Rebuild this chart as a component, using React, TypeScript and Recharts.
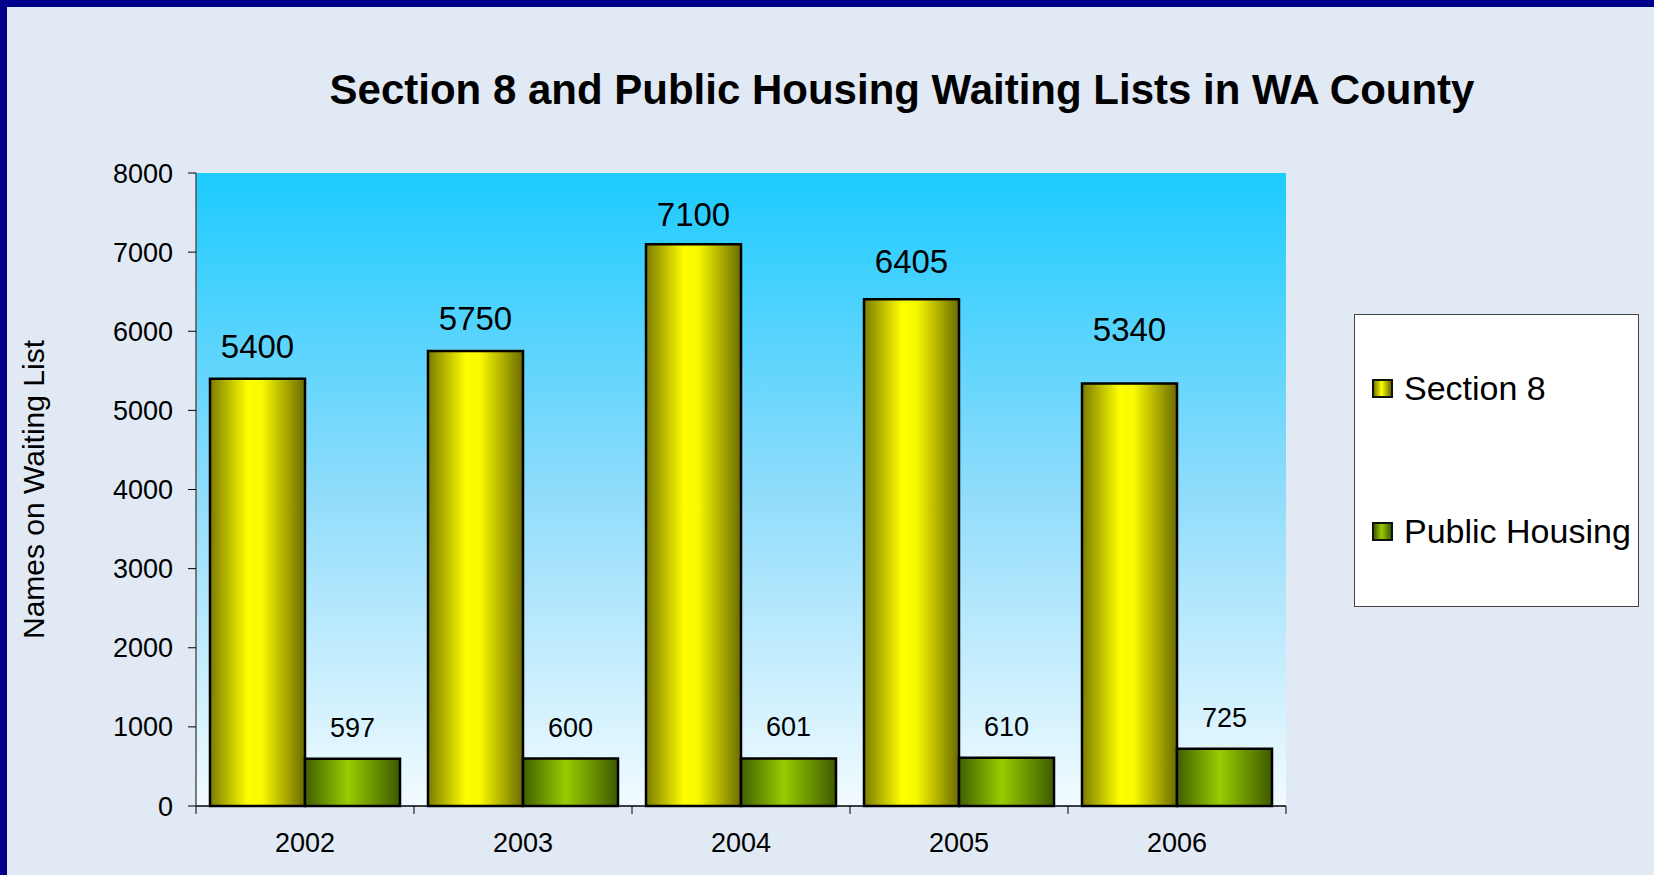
import React from 'react';
import {
  Bar,
  BarChart,
  CartesianGrid,
  LabelList,
  Legend,
  XAxis,
  YAxis,
} from 'recharts';

const YEARS = ['2002', '2003', '2004', '2005', '2006'];
const SECTION8 = [5400, 5750, 7100, 6405, 5340];
const PUBLIC_HOUSING = [597, 600, 601, 610, 725];
const Y_TICKS = [0, 1000, 2000, 3000, 4000, 5000, 6000, 7000, 8000];

const TITLE = 'Section 8 and Public Housing Waiting Lists in WA County';
const Y_LABEL = 'Names on Waiting List';

// the Excel original lifts a few of the big labels a bit more than the rest
const S8_LABEL_LIFT = [0, 0, -3, 5, 21];

const W = 1654;
const H = 875;
const MARGIN = { top: 173, right: 368, bottom: 9, left: 0 };
const Y_AXIS_W = 196;
const X_AXIS_H = 60;
const BAND = (W - MARGIN.left - MARGIN.right - Y_AXIS_W) / YEARS.length;

const FONT = '"Liberation Sans", Arial, sans-serif';

const data = YEARS.map((year, i) => ({
  year,
  section8: SECTION8[i],
  publicHousing: PUBLIC_HOUSING[i],
}));

function XTick(props: any) {
  const { x, y, payload, index } = props;
  const half = BAND / 2;
  return (
    <g>
      <line x1={x - half} x2={x - half} y1={y} y2={y + 8} stroke="#000" />
      {index === YEARS.length - 1 && (
        <line x1={x + half} x2={x + half} y1={y} y2={y + 8} stroke="#000" />
      )}
      <text
        x={x}
        y={y + 46}
        textAnchor="middle"
        fontSize={27}
        fontFamily={FONT}
        fill="#000"
      >
        {payload.value}
      </text>
    </g>
  );
}

function S8Label(props: any) {
  const { x, y, width, value, index } = props;
  const lift = S8_LABEL_LIFT[index] ?? 0;
  return (
    <text
      x={x + width / 2}
      y={y - 21 - lift}
      textAnchor="middle"
      fontSize={33}
      fontFamily={FONT}
      fill="#000"
    >
      {value}
    </text>
  );
}

function LegendBox() {
  const items = [
    { label: 'Section 8', bg: 'linear-gradient(90deg,#7b7b00,#ffff00 45%,#6b6b00)', top: 73 },
    { label: 'Public Housing', bg: 'linear-gradient(90deg,#3f5f00,#99cc00 45%,#3d5a00)', top: 216 },
  ];
  return (
    <div
      style={{
        position: 'relative',
        width: 285,
        height: 293,
        background: '#fff',
        border: '1px solid #444',
        boxSizing: 'border-box',
        fontFamily: FONT,
      }}
    >
      {items.map((it) => (
        <div
          key={it.label}
          style={{
            position: 'absolute',
            left: 17,
            top: it.top - 20,
            height: 40,
            display: 'flex',
            alignItems: 'center',
            whiteSpace: 'nowrap',
          }}
        >
          <span
            style={{
              display: 'inline-block',
              width: 17,
              height: 15,
              border: '2px solid #111',
              background: it.bg,
              marginRight: 11,
            }}
          />
          <span style={{ fontSize: 34, color: '#000' }}>{it.label}</span>
        </div>
      ))}
    </div>
  );
}

export default function App(): JSX.Element {
  return (
    <div
      style={{
        position: 'fixed',
        left: 0,
        top: 0,
        width: W,
        height: H,
        background: '#e0e9f4',
        boxShadow: 'inset 7px 7px 0 #00008a',
        overflow: 'hidden',
      }}
    >
      <div
        style={{
          position: 'absolute',
          left: 902,
          top: 68,
          transform: 'translateX(-50%)',
          whiteSpace: 'nowrap',
          fontFamily: FONT,
          fontWeight: 'bold',
          fontSize: 42,
          lineHeight: '44px',
          color: '#000',
        }}
      >
        {TITLE}
      </div>
      <BarChart
        width={W}
        height={H}
        data={data}
        margin={MARGIN}
        barGap={0}
        barSize={95}
        style={{ position: 'absolute', left: 0, top: 0 }}
      >
        <defs>
          <linearGradient id="plotBg" x1="0" y1="0" x2="0" y2="1">
            <stop offset="0%" stopColor="#1ccbff" />
            <stop offset="50%" stopColor="#8fdcfb" />
            <stop offset="100%" stopColor="#f2fbff" />
          </linearGradient>
          <linearGradient id="s8Grad" x1="0" y1="0" x2="1" y2="0">
            <stop offset="0%" stopColor="#7b7b00" />
            <stop offset="40%" stopColor="#ffff00" />
            <stop offset="55%" stopColor="#f8f800" />
            <stop offset="100%" stopColor="#6b6b00" />
          </linearGradient>
          <linearGradient id="phGrad" x1="0" y1="0" x2="1" y2="0">
            <stop offset="0%" stopColor="#3f5f00" />
            <stop offset="45%" stopColor="#99cc00" />
            <stop offset="100%" stopColor="#3d5a00" />
          </linearGradient>
        </defs>
        <CartesianGrid horizontal={false} vertical={false} fill="url(#plotBg)" />
        <XAxis
          dataKey="year"
          height={X_AXIS_H}
          interval={0}
          tickSize={0}
          tickMargin={0}
          tickLine={false}
          axisLine={{ stroke: '#000', strokeWidth: 1.5 }}
          tick={(p: any) => <XTick {...p} />}
        />
        <XAxis
          xAxisId="top"
          orientation="top"
          dataKey="year"
          height={0}
          tick={false}
          tickLine={false}
          axisLine={{ stroke: '#808080', strokeWidth: 1.5 }}
        />
        <YAxis
          width={Y_AXIS_W}
          domain={[0, 8000]}
          ticks={Y_TICKS}
          interval={0}
          tickSize={8}
          tickMargin={15}
          tickLine={{ stroke: '#000' }}
          axisLine={{ stroke: '#555', strokeWidth: 1.5 }}
          tick={{ fontSize: 27, fill: '#000', fontFamily: FONT }}
          label={{
            value: Y_LABEL,
            angle: -90,
            position: 'insideLeft',
            offset: 33,
            style: { textAnchor: 'middle', fontSize: 30, fill: '#000', fontFamily: FONT },
          }}
        />
        <YAxis
          yAxisId="right"
          orientation="right"
          width={0}
          domain={[0, 8000]}
          tick={false}
          tickLine={false}
          axisLine={{ stroke: '#808080', strokeWidth: 1.5 }}
        />
        <Legend
          layout="vertical"
          align="center"
          verticalAlign="middle"
          wrapperStyle={{ left: 1354, top: 314, width: 285, height: 293 }}
          content={() => <LegendBox />}
        />
        <Bar
          dataKey="section8"
          name="Section 8"
          fill="url(#s8Grad)"
          stroke="#000"
          strokeWidth={2.5}
          isAnimationActive={false}
        >
          <LabelList dataKey="section8" content={(p: any) => <S8Label {...p} />} />
        </Bar>
        <Bar
          dataKey="publicHousing"
          name="Public Housing"
          fill="url(#phGrad)"
          stroke="#000"
          strokeWidth={2.5}
          isAnimationActive={false}
        >
          <LabelList
            dataKey="publicHousing"
            position="top"
            offset={22}
            style={{ fontSize: 27, fill: '#000', fontFamily: FONT }}
          />
        </Bar>
      </BarChart>
    </div>
  );
}
